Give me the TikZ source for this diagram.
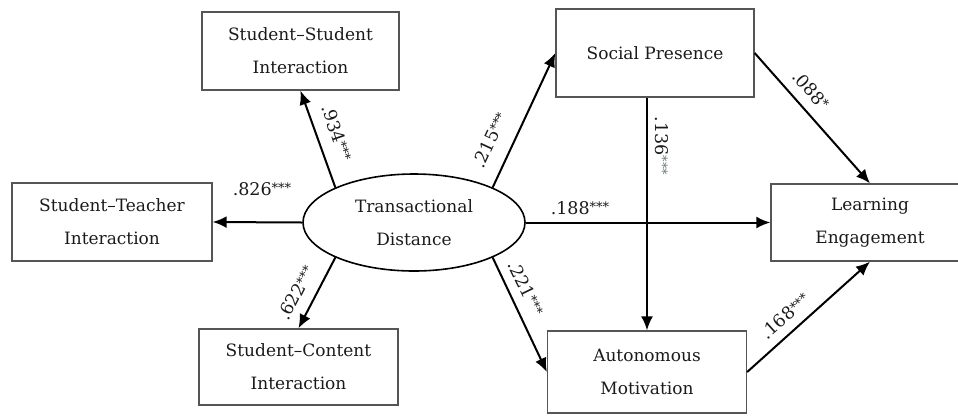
\documentclass[tikz,border=0pt]{standalone}
\usepackage{fontspec}
\setmainfont{DejaVu Serif}
\usetikzlibrary{arrows.meta,shapes.geometric,calc}
\definecolor{boxline}{HTML}{555555}
\definecolor{txt}{HTML}{1A1A1A}
\definecolor{stargray}{HTML}{6E7A70}
\newcommand{\stars}[1]{{\fontsize{13}{13}\selectfont\raisebox{2.5pt}{#1}}}
\tikzset{
  box/.style={draw=boxline, line width=1.3pt, rectangle, inner sep=0pt, align=center,
    text=txt, font=\fontsize{17}{33}\selectfont},
  oval/.style={draw=black, line width=1.6pt, ellipse, inner sep=0pt, align=center,
    minimum width=222pt, minimum height=97pt, text=txt, font=\fontsize{17}{33}\selectfont},
  arr/.style={draw=black, line width=2pt, -{Latex[length=14pt,width=12pt]}},
  lab/.style={inner sep=0pt, text=txt, font=\fontsize{17.5}{18}\selectfont}
}
\begin{document}
\begin{tikzpicture}[x=1pt,y=-1pt]
\useasboundingbox (0,0) rectangle (958,416);
% nodes
\node[oval] (td) at (414,222.5) {Transactional\\Distance};
\node[box, minimum width=197pt, minimum height=78pt] (ss) at (300.5,51) {Student–Student\\Interaction};
\node[box, minimum width=200pt, minimum height=78pt] (st) at (112,222) {Student–Teacher\\Interaction};
\node[box, minimum width=199pt, minimum height=76pt] (sc) at (298.5,367) {Student–Content\\Interaction};
\node[box, minimum width=198pt, minimum height=88pt] (sp) at (655,53) {Social Presence};
\node[box, minimum width=198pt, minimum height=77pt] (le) at (870,222.5) {Learning\\Engagement};
\node[box, minimum width=199pt, minimum height=82pt] (am) at (647,372) {Autonomous\\Motivation};
% connectors
\draw[arr] (td.156) -- (ss.south);
\draw[arr] (td.west) -- (st.east);
\draw[arr] (td.204) -- (sc.north);
\draw[arr] (td.24) -- (sp.west);
\draw[arr] (td.east) -- (le.west);
\draw[arr] (td.-24) -- (am.west);
\draw[arr] (sp.south -| am.north) -- (am.north);
\draw[arr] (sp.east) -- (le.north);
\draw[arr] (am.east) -- (le.south);
% labels
\node[lab, rotate=-71] (l1) at (337,133) {.934\stars{***}};
\node[lab, rotate=65] (l2) at (490,140) {.215\stars{***}};
\node[lab] (l3) at (262,189) {.826\stars{***}};
\node[lab, rotate=63] (l4) at (296,293) {.622\stars{***}};
\node[lab] (l5) at (580,208) {.188\stars{***}};
\node[lab, rotate=-64] (l6) at (526,288) {.221\stars{***}};
\node[lab, rotate=-90] (l7) at (662,146) {.136\textcolor{stargray}{\stars{***}}};
\node[lab, rotate=-48] (l8) at (811,90) {.088\stars{*}};
\node[lab, rotate=42] (l9) at (785,316) {.168\stars{***}};
\end{tikzpicture}
\end{document}
